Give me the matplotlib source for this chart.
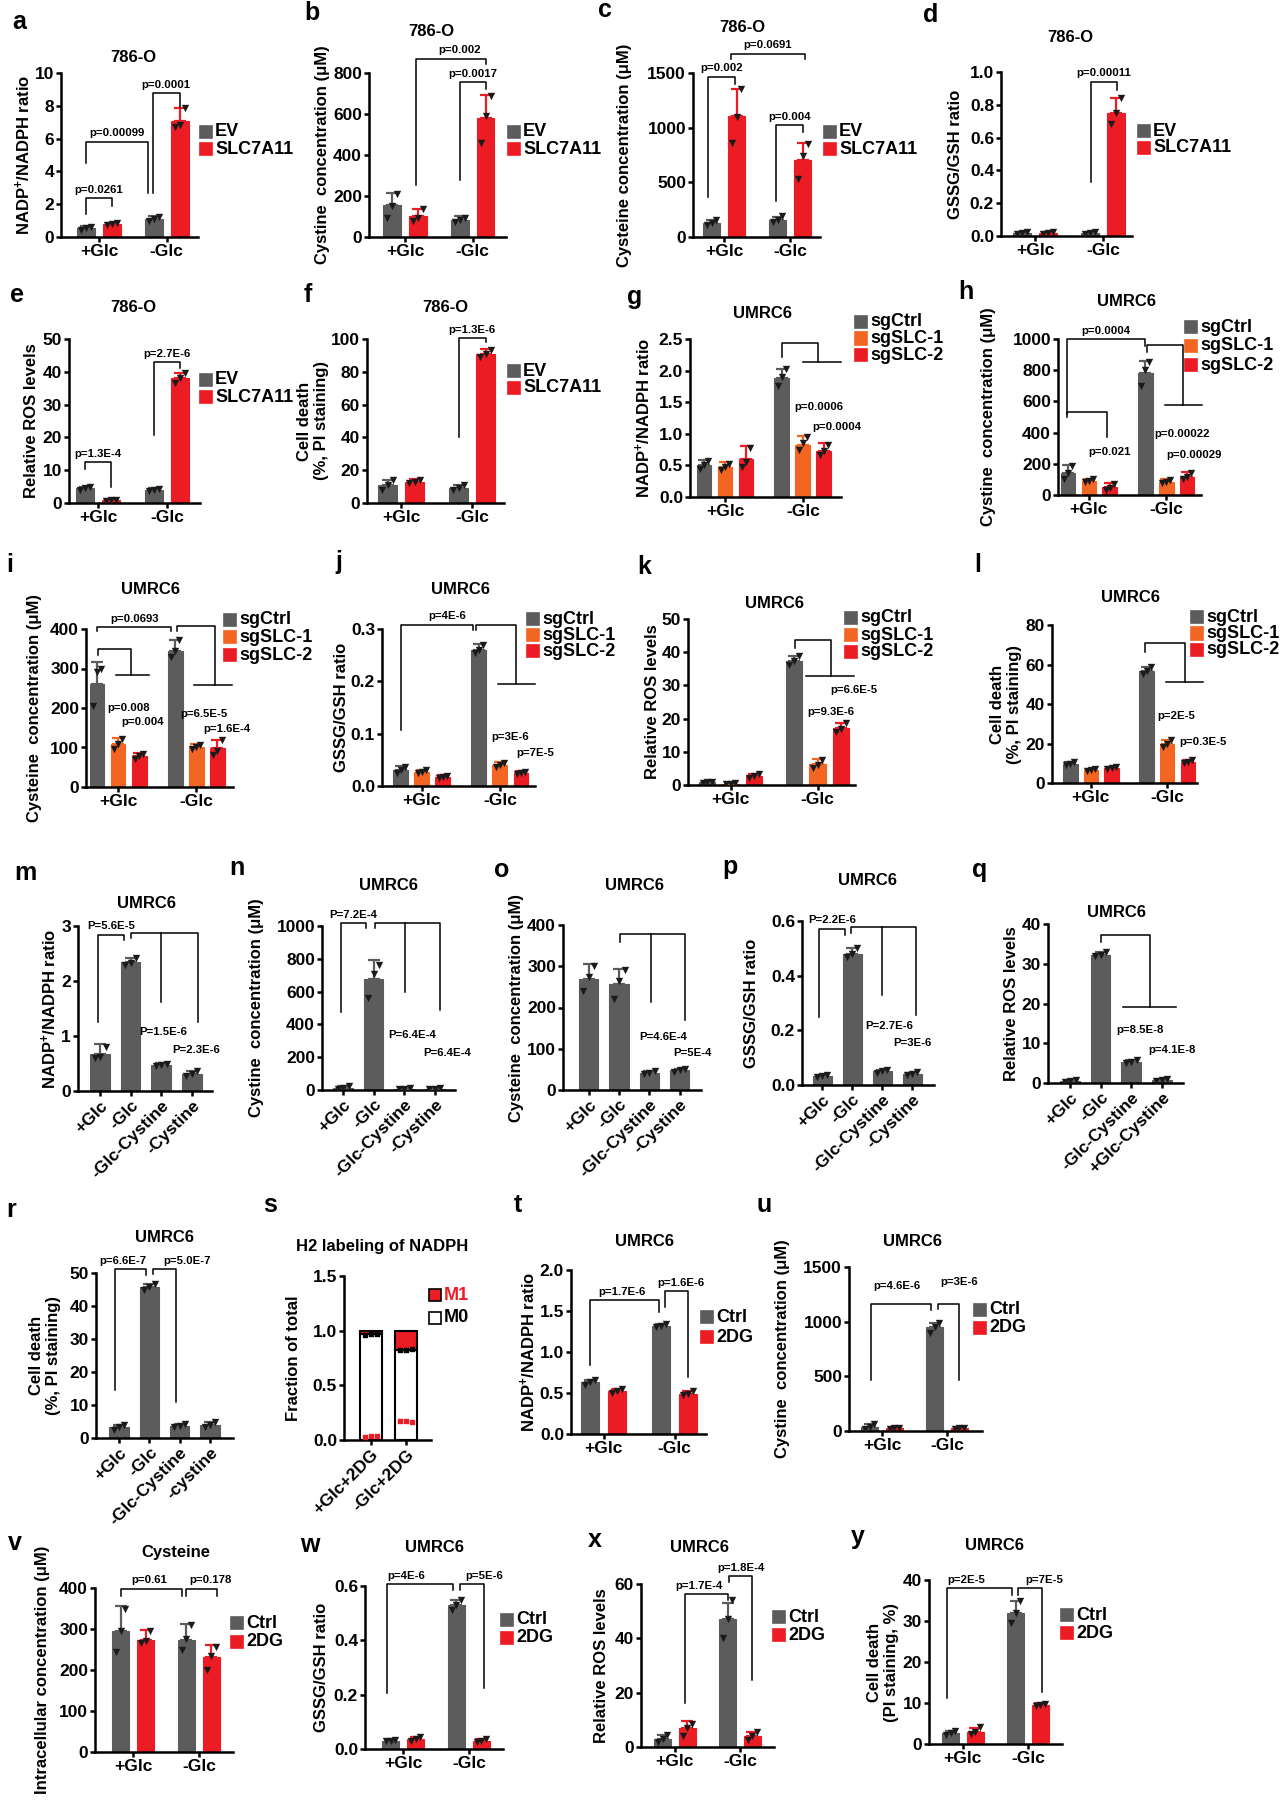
import numpy as np
import matplotlib
matplotlib.use('Agg')
import matplotlib.pyplot as plt
from matplotlib.patches import Rectangle
from matplotlib.ticker import FormatStrFormatter
from matplotlib import font_manager

plt.rcParams['font.family'] = ['Liberation Sans', 'DejaVu Sans']
plt.rcParams['font.weight'] = 'bold'
plt.rcParams['mathtext.fontset'] = 'custom'
plt.rcParams['mathtext.rm'] = 'Liberation Sans:bold'
plt.rcParams['mathtext.default'] = 'rm'
plt.rcParams['axes.linewidth'] = 1.8

installed = {f.name for f in font_manager.fontManager.ttflist}
PFONT = 'Liberation Sans Narrow' if 'Liberation Sans Narrow' in installed else 'Liberation Sans'
PFS = 9.5 if PFONT != 'Liberation Sans' else 8.2

GRAY, RED, ORANGE = '#5c5c5c', '#ec1c24', '#f26522'

# ---- data ----
GLC = ['+Glc', '-Glc']
CYS_M = ['+Glc', '-Glc', '-Glc-Cystine', '-Cystine']
CYS_Q = ['+Glc', '-Glc', '-Glc-Cystine', '+Glc-Cystine']
CYS_R = ['+Glc', '-Glc', '-Glc-Cystine', '-cystine']
DG_S = ['+Glc+2DG', '-Glc+2DG']

# 786-O, EV vs SLC7A11
a_ev, a_ev_sd, a_ev_pts = [0.55, 1.1], [0.12, 0.15], [[0.45, 0.55, 0.62], [1.0, 1.1, 1.22]]
a_slc, a_slc_sd, a_slc_pts = [0.8, 7.1], [0.08, 0.75], [[0.75, 0.8, 0.86], [6.7, 6.8, 7.85]]
b_ev, b_ev_sd, b_ev_pts = [155, 85], [60, 15], [[95, 150, 210], [75, 85, 95]]
b_slc, b_slc_sd, b_slc_pts = [100, 580], [35, 115], [[80, 95, 135], [460, 590, 690]]
c_ev, c_ev_sd, c_ev_pts = [130, 160], [30, 25], [[110, 130, 160], [140, 160, 190]]
c_slc, c_slc_sd, c_slc_pts = [1105, 700], [250, 160], [[860, 1100, 1350], [530, 740, 850]]
d_ev, d_ev_sd, d_ev_pts = [0.02, 0.02], [0.005, 0.005], [[0.015, 0.02, 0.025], [0.015, 0.02, 0.025]]
d_slc, d_slc_sd, d_slc_pts = [0.02, 0.75], [0.005, 0.09], [[0.015, 0.02, 0.025], [0.68, 0.75, 0.84]]
e_ev, e_ev_sd, e_ev_pts = [4.5, 4.0], [0.5, 0.5], [[4.1, 4.5, 5.0], [3.7, 4.0, 4.4]]
e_slc, e_slc_sd, e_slc_pts = [0.8, 38], [0.3, 1.5], [[0.5, 0.8, 1.0], [36.5, 38, 39.6]]
f_ev, f_ev_sd, f_ev_pts = [11, 9], [3, 2], [[8, 11, 14], [8, 9, 11]]
f_slc, f_slc_sd, f_slc_pts = [13, 91], [1.5, 3], [[12, 13, 14], [89, 91, 93.5]]

# UMRC6, sgCtrl / sgSLC-1 / sgSLC-2
g_c, g_c_sd, g_c_pts = [0.5, 1.88], [0.08, 0.15], [[0.45, 0.5, 0.57], [1.75, 1.9, 2.03]]
g_1, g_1_sd, g_1_pts = [0.47, 0.83], [0.08, 0.13], [[0.42, 0.47, 0.53], [0.75, 0.85, 0.95]]
g_2, g_2_sd, g_2_pts = [0.6, 0.73], [0.2, 0.12], [[0.48, 0.55, 0.78], [0.67, 0.73, 0.83]]
h_c, h_c_sd, h_c_pts = [140, 780], [50, 80], [[105, 140, 185], [700, 800, 850]]
h_1, h_1_sd, h_1_pts = [90, 85], [15, 15], [[85, 90, 100], [75, 85, 95]]
h_2, h_2_sd, h_2_pts = [50, 115], [25, 30], [[30, 45, 70], [100, 115, 140]]
i_c, i_c_sd, i_c_pts = [262, 345], [55, 28], [[205, 290, 300], [330, 345, 372]]
i_1, i_1_sd, i_1_pts = [108, 101], [15, 8], [[95, 110, 122], [95, 100, 106]]
i_2, i_2_sd, i_2_pts = [78, 98], [8, 22], [[72, 78, 84], [80, 90, 120]]
j_c, j_c_sd, j_c_pts = [0.03, 0.26], [0.008, 0.012], [[0.025, 0.03, 0.036], [0.255, 0.26, 0.27]]
j_1, j_1_sd, j_1_pts = [0.027, 0.04], [0.004, 0.005], [[0.024, 0.027, 0.03], [0.037, 0.04, 0.044]]
j_2, j_2_sd, j_2_pts = [0.018, 0.024], [0.003, 0.004], [[0.016, 0.018, 0.02], [0.022, 0.024, 0.027]]
k_c, k_c_sd, k_c_pts = [0.8, 37.5], [0.3, 1.5], [[0.5, 0.8, 1.0], [36, 37.5, 39]]
k_1, k_1_sd, k_1_pts = [0.4, 6.2], [0.2, 1.5], [[0.2, 0.4, 0.6], [5, 6, 7.6]]
k_2, k_2_sd, k_2_pts = [2.6, 17.2], [0.8, 1.5], [[2, 2.6, 3.4], [16, 17, 18.6]]
l_c, l_c_sd, l_c_pts = [9.5, 56.5], [1, 2], [[9, 9.5, 10.5], [55, 56.5, 58.5]]
l_1, l_1_sd, l_1_pts = [6.5, 19.5], [0.8, 2.5], [[6, 6.5, 7], [18, 19.5, 22]]
l_2, l_2_sd, l_2_pts = [7.5, 10.5], [0.8, 1], [[7, 7.5, 8.1], [10, 10.5, 11.5]]

# UMRC6, glucose / cystine conditions
m_val, m_sd = [0.68, 2.35, 0.48, 0.31], [0.17, 0.06, 0.03, 0.05]
m_pts = [[0.6, 0.62, 0.8], [2.3, 2.33, 2.42], [0.46, 0.48, 0.5], [0.28, 0.31, 0.36]]
n_val, n_sd = [15, 675, 8, 8], [10, 120, 3, 3]
n_pts = [[5, 15, 25], [560, 710, 760], [5, 8, 10], [5, 8, 10]]
o_val, o_sd = [270, 258, 42, 48], [35, 35, 3, 3]
o_pts = [[240, 275, 300], [220, 265, 290], [40, 42, 45], [44, 48, 52]]
p_val, p_sd = [0.032, 0.48, 0.05, 0.04], [0.005, 0.02, 0.005, 0.005]
p_pts = [[0.028, 0.032, 0.037], [0.47, 0.48, 0.5], [0.045, 0.05, 0.055], [0.035, 0.04, 0.046]]
q_val, q_sd = [0.5, 32.3, 5.2, 0.8], [0.2, 0.6, 0.5, 0.3]
q_pts = [[0.3, 0.5, 0.7], [32, 32.3, 32.9], [5, 5.2, 5.7], [0.5, 0.8, 1.0]]
r_val, r_sd = [3.2, 45.8, 3.7, 4.0], [0.8, 0.8, 0.5, 0.8]
r_pts = [[2.5, 3.2, 4.0], [45, 45.8, 46.6], [3.2, 3.7, 4.1], [3.3, 4.0, 5.0]]

# H2 labeling of NADPH
s_m0, s_m1 = [0.965, 0.825], [0.035, 0.175]
s_m0_pts = [[0.96, 0.965, 0.97], [0.82, 0.825, 0.83]]
s_m1_pts = [[0.03, 0.035, 0.035], [0.17, 0.175, 0.165]]

# UMRC6, Ctrl vs 2DG
t_c, t_c_sd, t_c_pts = [0.63, 1.32], [0.03, 0.02], [[0.6, 0.63, 0.66], [1.3, 1.32, 1.34]]
t_d, t_d_sd, t_d_pts = [0.53, 0.49], [0.02, 0.03], [[0.5, 0.53, 0.55], [0.47, 0.49, 0.52]]
u_c, u_c_sd, u_c_pts = [40, 950], [20, 40], [[20, 40, 60], [900, 950, 990]]
u_d, u_d_sd, u_d_pts = [25, 25], [8, 8], [[20, 25, 30], [20, 25, 30]]
v_c, v_c_sd, v_c_pts = [295, 273], [60, 40], [[245, 295, 350], [250, 275, 310]]
v_d, v_d_sd, v_d_pts = [272, 232], [25, 28], [[265, 270, 295], [200, 235, 255]]
w_c, w_c_sd, w_c_pts = [0.03, 0.53], [0.005, 0.02], [[0.028, 0.03, 0.033], [0.51, 0.53, 0.55]]
w_d, w_d_sd, w_d_pts = [0.035, 0.03], [0.01, 0.008], [[0.028, 0.035, 0.045], [0.025, 0.03, 0.037]]
x_c, x_c_sd, x_c_pts = [3, 47], [1.5, 6], [[2, 3, 4.5], [40, 47, 54]]
x_d, x_d_sd, x_d_pts = [7, 4], [2.5, 1.5], [[4, 7, 8.5], [2.5, 4, 5.5]]
y_c, y_c_sd, y_c_pts = [2.7, 32], [0.5, 3], [[2.3, 2.7, 3.1], [29.5, 32, 35]]
y_d, y_d_sd, y_d_pts = [3, 9.5], [1, 0.5], [[2.5, 3, 4.2], [9.2, 9.5, 9.8]]

NADP = r'NADP$^{+}$/NADPH ratio'
CYSTINE = 'Cystine  concentration (\u03bcM)'
CYSTEINE = 'Cysteine  concentration (\u03bcM)'
GSSG = 'GSSG/GSH ratio'
ROS = 'Relative ROS levels'
DEATH = 'Cell death\n(%, PI staining)'

# ---- drawing ----
FW, FH = 1285, 1800
fig = plt.figure(figsize=(FW / 100, FH / 100), dpi=100)
fig.patch.set_facecolor('white')
ylabels = []


def fx(x):
    return x / FW


def fy(y):
    return 1 - y / FH


def panel(letter, lpos, box, top, nt, xlim, title, tpos, ylabel, ylx, fmt=None):
    L, T, R, B = box
    ax = fig.add_axes([fx(L), fy(B), (R - L) / FW, (B - T) / FH])
    ax.set_ylim(0, top)
    ax.set_yticks(np.linspace(0, top, nt + 1))
    if fmt:
        ax.yaxis.set_major_formatter(FormatStrFormatter(fmt))
    ax.set_xlim(*xlim)
    ax.spines[['top', 'right']].set_visible(False)
    ax.tick_params(width=1.8, length=3.5, labelsize=12.5, pad=1.5)
    ax.patch.set_alpha(0)
    fig.text(fx(lpos[0]), fy(lpos[1]), letter, fontsize=18, va='center')
    fig.text(fx(tpos[0]), fy(tpos[1]), title, fontsize=12, ha='center', va='center')
    t = fig.text(fx(ylx), fy((T + B) / 2), ylabel, rotation=90, ha='center', va='center',
                 fontsize=12, multialignment='center')
    ylabels.append((ax, t))
    return ax


def bars(ax, xs, vals, sd, pts, color, w):
    ax.bar(xs, vals, w, color=color, edgecolor=color, lw=0.8, zorder=2)
    ax.errorbar(xs, vals, yerr=[np.zeros(len(vals)), sd], fmt='none', ecolor=color,
                elinewidth=1.6, capsize=4, capthick=1.6, zorder=3)
    for x, p in zip(xs, pts):
        ax.scatter(x + np.array([-0.28, 0.0, 0.28]) * w, p, marker='v', s=28,
                   color='#1a1a1a', lw=0, zorder=4)


def two(ax, c, d, ccol, dcol, labels=GLC):
    bars(ax, np.arange(2) - 0.19, *c, ccol, 0.26)
    bars(ax, np.arange(2) + 0.19, *d, dcol, 0.26)
    ax.set_xticks(range(2))
    ax.set_xticklabels(labels)


def three(ax, c, s1, s2):
    for ser, off, col in zip([c, s1, s2], [-0.27, 0, 0.27], [GRAY, ORANGE, RED]):
        bars(ax, np.arange(2) + off, *ser, col, 0.19)
    ax.set_xticks(range(2))
    ax.set_xticklabels(GLC)


def four(ax, vals, sd, pts, labels):
    bars(ax, np.arange(4), vals, sd, pts, GRAY, 0.64)
    ax.set_xticks(range(4))
    ax.set_xticklabels(labels, rotation=45, ha='right', rotation_mode='anchor')


def legend(x, y, labels, colors, step, edge=None, tcol=None, fs=13):
    for k, lab in enumerate(labels):
        yc = y + k * step
        fig.add_artist(Rectangle((fx(x), fy(yc + 6)), 12 / FW, 12 / FH, transform=fig.transFigure,
                                 facecolor=colors[k], edgecolor=edge or colors[k], lw=1.2))
        fig.text(fx(x + 15), fy(yc), lab, ha='left', va='center', fontsize=fs,
                 color=tcol[k] if tcol else 'k')


def br(ax, x1, x2, ytop, y1, y2, txt=None, tx=None):
    ax.plot([x1, x1, x2, x2], [y1, ytop, ytop, y2], color='k', lw=1.1, clip_on=False, zorder=5)
    if txt:
        ax.annotate(txt, ((x1 + x2) / 2 if tx is None else tx, ytop), xytext=(0, 2.5),
                    textcoords='offset points', ha='center', va='bottom', fontsize=PFS,
                    family=PFONT, annotation_clip=False)


def comb(ax, x0, y0, ytop, xr, yr, cross=None, teeth=()):
    ax.plot([x0, x0, xr, xr], [y0, ytop, ytop, yr], color='k', lw=1.1, clip_on=False, zorder=5)
    for tx, ty in teeth:
        ax.plot([tx, tx], [ytop, ty], color='k', lw=1.1, clip_on=False, zorder=5)
    if cross:
        ax.plot(cross, [yr, yr], color='k', lw=1.1, clip_on=False, zorder=5)


def ptxt(ax, x, y, s):
    ax.text(x, y, s, ha='center', va='center', fontsize=PFS, family=PFONT, clip_on=False)


EVL = ['EV', 'SLC7A11']
SGL = ['sgCtrl', 'sgSLC-1', 'sgSLC-2']
DGL = ['Ctrl', '2DG']

# row 1
ax = panel('a', (12, 22), (61, 73, 198, 237), 10, 5, (-0.56, 1.46), '786-O', (133, 58), NADP, 30)
two(ax, (a_ev, a_ev_sd, a_ev_pts), (a_slc, a_slc_sd, a_slc_pts), GRAY, RED)
br(ax, -0.19, 0.19, 2.37, 1.4, 1.86, 'p=0.0261')
br(ax, -0.19, 0.73, 5.8, 4.5, 2.67, 'p=0.00099')
br(ax, 0.79, 1.19, 8.75, 2.67, 7.95, 'p=0.0001')
legend(200, 132, EVL, [GRAY, RED], 17)

ax = panel('b', (304, 13), (369, 73, 506, 237), 800, 4, (-0.53, 1.49), '786-O', (431, 32), CYSTINE, 322)
two(ax, (b_ev, b_ev_sd, b_ev_pts), (b_slc, b_slc_sd, b_slc_pts), GRAY, RED)
br(ax, 0.81, 1.19, 756, 276, 724, 'p=0.0017')
br(ax, 0.17, 1.19, 870, 252, 845, 'p=0.002', tx=0.8)
legend(508, 132, EVL, [GRAY, RED], 17)

ax = panel('c', (598, 10), (693, 73, 820, 237), 1500, 3, (-0.47, 1.45), '786-O', (742, 28),
           'Cysteine concentration (\u03bcM)', 624)
two(ax, (c_ev, c_ev_sd, c_ev_pts), (c_slc, c_slc_sd, c_slc_pts), GRAY, RED)
br(ax, -0.25, 0.17, 1464, 370, 1403, 'p=0.002')
br(ax, 0.11, 1.22, 1676, 1630, 1630, 'p=0.0691')
br(ax, 0.78, 1.2, 1023, 325, 962, 'p=0.004')
legend(824, 132, EVL, [GRAY, RED], 17)

ax = panel('d', (923, 15), (1001, 72, 1132, 236), 1.0, 5, (-0.5, 1.43), '786-O', (1070, 38), GSSG, 956, '%.1f')
two(ax, (d_ev, d_ev_sd, d_ev_pts), (d_slc, d_slc_sd, d_slc_pts), GRAY, RED)
br(ax, 0.82, 1.21, 0.94, 0.33, 0.89, 'p=0.00011')
legend(1138, 131, EVL, [GRAY, RED], 17)

# row 2
ax = panel('e', (10, 295), (69, 339, 200, 503), 50, 5, (-0.42, 1.48), '786-O', (133, 307), ROS, 32)
two(ax, (e_ev, e_ev_sd, e_ev_pts), (e_slc, e_slc_sd, e_slc_pts), GRAY, RED)
br(ax, -0.19, 0.19, 12.5, 10.5, 4.9, 'p=1.3E-4')
br(ax, 0.81, 1.19, 42.9, 20.7, 41.1, 'p=2.7E-6')
legend(200, 380, EVL, [GRAY, RED], 17)

ax = panel('f', (304, 295), (367, 339, 504, 503), 100, 5, (-0.48, 1.45), '786-O', (445, 307), DEATH, 322)
two(ax, (f_ev, f_ev_sd, f_ev_pts), (f_slc, f_slc_sd, f_slc_pts), GRAY, RED)
br(ax, 0.81, 1.19, 100.6, 40.4, 98, 'p=1.3E-6')
legend(508, 371, EVL, [GRAY, RED], 17)

ax = panel('g', (627, 297), (690, 339, 841, 497), 2.5, 5, (-0.45, 1.49), 'UMRC6', (763, 313), NADP, 643, '%.1f')
three(ax, (g_c, g_c_sd, g_c_pts), (g_1, g_1_sd, g_1_pts), (g_2, g_2_sd, g_2_pts))
comb(ax, 0.73, 2.22, 2.43, 1.2, 2.14, cross=(1.0, 1.49))
ptxt(ax, 1.2, 1.43, 'p=0.0006')
ptxt(ax, 1.44, 1.1, 'p=0.0004')
legend(855, 322, SGL, [GRAY, ORANGE, RED], 16.5)

ax = panel('h', (958, 292), (1058, 339, 1201, 495), 1000, 5, (-0.4, 1.45), 'UMRC6', (1126, 302), CYSTINE, 988)
three(ax, (h_c, h_c_sd, h_c_pts), (h_1, h_1_sd, h_1_pts), (h_2, h_2_sd, h_2_pts))
br(ax, -0.28, 0.72, 1000, 521, 957, 'p=0.0004')
comb(ax, -0.28, 500, 532, 0.24, 372)
comb(ax, 0.75, 915, 960, 1.22, 574, cross=(0.98, 1.46))
ptxt(ax, 0.27, 277, 'p=0.021')
ptxt(ax, 1.2, 393, 'p=0.00022')
ptxt(ax, 1.36, 255, 'p=0.00029')
legend(1185, 327, SGL, [GRAY, ORANGE, RED], 19)

# row 3
ax = panel('i', (6, 565), (86, 629, 233, 787), 400, 4, (-0.41, 1.47), 'UMRC6', (151, 590), CYSTEINE, 35)
three(ax, (i_c, i_c_sd, i_c_pts), (i_1, i_1_sd, i_1_pts), (i_2, i_2_sd, i_2_pts))
br(ax, -0.27, 0.68, 405, 394, 394, 'p=0.0693')
comb(ax, -0.26, 335, 349, 0.16, 284, cross=(-0.03, 0.39))
comb(ax, 0.75, 394, 408, 1.24, 258, cross=(0.97, 1.46))
ptxt(ax, 0.13, 199, 'p=0.008')
ptxt(ax, 0.32, 165, 'p=0.004')
ptxt(ax, 1.1, 186, 'p=6.5E-5')
ptxt(ax, 1.39, 148, 'p=1.6E-4')
legend(224, 620, SGL, [GRAY, ORANGE, RED], 17.5)

ax = panel('j', (335, 562), (382, 629, 535, 786), 0.3, 3, (-0.51, 1.45), 'UMRC6', (461, 590), GSSG, 343, '%.1f')
three(ax, (j_c, j_c_sd, j_c_pts), (j_1, j_1_sd, j_1_pts), (j_2, j_2_sd, j_2_pts))
br(ax, -0.27, 0.66, 0.308, 0.107, 0.299, 'p=4E-6', tx=0.32)
comb(ax, 0.7, 0.299, 0.308, 1.21, 0.195, cross=(0.97, 1.45))
ptxt(ax, 1.13, 0.094, 'p=3E-6')
ptxt(ax, 1.45, 0.063, 'p=7E-5')
legend(527, 619, SGL, [GRAY, ORANGE, RED], 16)

ax = panel('k', (637, 567), (688, 619, 855, 785), 50, 5, (-0.49, 1.43), 'UMRC6', (775, 603), ROS, 654)
three(ax, (k_c, k_c_sd, k_c_pts), (k_1, k_1_sd, k_1_pts), (k_2, k_2_sd, k_2_pts))
comb(ax, 0.74, 41.2, 43.8, 1.15, 32.9, cross=(0.87, 1.42))
ptxt(ax, 1.42, 28.7, 'p=6.6E-5')
ptxt(ax, 1.15, 22.1, 'p=9.3E-6')
legend(845, 618, SGL, [GRAY, ORANGE, RED], 17)

ax = panel('l', (974, 565), (1052, 625, 1197, 783), 80, 4, (-0.51, 1.39), 'UMRC6', (1130, 597), DEATH, 1006)
three(ax, (l_c, l_c_sd, l_c_pts), (l_1, l_1_sd, l_1_pts), (l_2, l_2_sd, l_2_pts))
comb(ax, 0.71, 66.5, 70.7, 1.23, 51.3, cross=(0.99, 1.47))
ptxt(ax, 1.12, 33.7, 'p=2E-5')
ptxt(ax, 1.47, 21, 'p=0.3E-5')
legend(1191, 617, SGL, [GRAY, ORANGE, RED], 16.5)

# row 4
ax = panel('m', (14, 873), (78, 926, 212, 1091), 3, 3, (-0.72, 3.66), 'UMRC6', (147, 903), NADP, 51)
four(ax, m_val, m_sd, m_pts, CYS_M)
br(ax, -0.07, 0.77, 2.84, 1.26, 2.75, 'P=5.6E-5')
comb(ax, 1.0, 2.78, 2.87, 3.2, 1.26, teeth=[(2.0, 1.62)])
ptxt(ax, 2.07, 1.08, 'P=1.5E-6')
ptxt(ax, 3.13, 0.75, 'P=2.3E-6')

ax = panel('n', (229, 868), (322, 926, 455, 1090), 1000, 5, (-0.69, 3.66), 'UMRC6', (388, 885), CYSTINE, 257)
four(ax, n_val, n_sd, n_pts, CYS_M)
br(ax, -0.07, 0.76, 1016, 478, 986, 'P=7.2E-4')
comb(ax, 1.03, 986, 1020, 3.17, 488, teeth=[(2.04, 600)])
ptxt(ax, 2.27, 335, 'P=6.4E-4')
ptxt(ax, 3.4, 224, 'P=6.4E-4')

ax = panel('o', (494, 870), (563, 925, 701, 1090), 400, 4, (-0.85, 3.7), 'UMRC6', (635, 885), CYSTEINE, 516)
four(ax, o_val, o_sd, o_pts, CYS_M)
comb(ax, 1.03, 360, 377, 3.17, 170, teeth=[(2.04, 214)])
ptxt(ax, 2.45, 128, 'P=4.6E-4')
ptxt(ax, 3.43, 90, 'P=5E-4')

ax = panel('p', (722, 867), (802, 921, 934, 1085), 0.6, 3, (-0.67, 3.73), 'UMRC6', (867, 880), GSSG, 751, '%.1f')
four(ax, p_val, p_sd, p_pts, CYS_M)
br(ax, -0.11, 0.75, 0.572, 0.249, 0.547, 'P=2.2E-6')
comb(ax, 0.96, 0.555, 0.578, 3.14, 0.255, teeth=[(2.0, 0.328)])
ptxt(ax, 2.24, 0.215, 'P=2.7E-6')
ptxt(ax, 3.0, 0.152, 'P=3E-6')

ax = panel('q', (972, 870), (1048, 924, 1183, 1083), 40, 4, (-0.72, 3.69), 'UMRC6', (1117, 912), ROS, 1011)
four(ax, q_val, q_sd, q_pts, CYS_Q)
comb(ax, 1.0, 35.5, 37.2, 2.6, 19.2, cross=(1.73, 3.47))
ptxt(ax, 2.27, 13.4, 'p=8.5E-8')
ptxt(ax, 3.33, 8.4, 'p=4.1E-8')

# row 5
ax = panel('r', (6, 1210), (96, 1273, 233, 1438), 50, 5, (-0.76, 3.76), 'UMRC6', (165, 1238), DEATH, 45)
four(ax, r_val, r_sd, r_pts, CYS_R)
br(ax, -0.12, 0.88, 51.1, 14.6, 49.3, 'p=6.6E-7', tx=0.11)
br(ax, 1.11, 1.88, 51.1, 49.8, 11, 'p=5.0E-7', tx=2.24)

ax = panel('s', (263, 1205), (344, 1276, 431, 1440), 1.5, 3, (-0.77, 1.71), 'H2 labeling of NADPH', (382, 1247),
           'Fraction of total', 294, '%.1f')
xs = np.arange(2)
ax.bar(xs, s_m0, 0.62, color='white', edgecolor='k', lw=1.5, zorder=2)
ax.bar(xs, s_m1, 0.62, bottom=s_m0, color=RED, edgecolor='k', lw=1.5, zorder=2)
for x, p0, p1 in zip(xs, s_m0_pts, s_m1_pts):
    ax.scatter(x + np.array([-0.18, 0, 0.18]), p0, marker='s', s=5, color='k', zorder=4)
    ax.scatter(x + np.array([-0.18, 0, 0.18]), p1, marker='s', s=9, color=RED, zorder=4)
ax.set_xticks(range(2))
ax.set_xticklabels(DG_S, rotation=45, ha='right', rotation_mode='anchor')
legend(429, 1295, ['M1', 'M0'], [RED, 'white'], 23, edge='k', tcol=[RED, 'k'])

ax = panel('t', (514, 1205), (571, 1270, 706, 1434), 2.0, 4, (-0.46, 1.44), 'UMRC6', (644, 1242), NADP, 529, '%.1f')
two(ax, (t_c, t_c_sd, t_c_pts), (t_d, t_d_sd, t_d_pts), GRAY, RED)
br(ax, -0.19, 0.78, 1.63, 0.84, 1.49, 'p=1.7E-6', tx=0.25)
br(ax, 0.86, 1.19, 1.74, 1.55, 0.7, 'p=1.6E-6', tx=1.08)
legend(701, 1317, DGL, [GRAY, RED], 20)

ax = panel('u', (757, 1205), (849, 1267, 982, 1431), 1500, 3, (-0.51, 1.54), 'UMRC6', (913, 1242), CYSTINE, 783)
two(ax, (u_c, u_c_sd, u_c_pts), (u_d, u_d_sd, u_d_pts), GRAY, RED)
br(ax, -0.17, 0.76, 1165, 463, 1104)
br(ax, 0.86, 1.19, 1160, 1120, 463)
ptxt(ax, 0.22, 1326, 'p=4.6E-6')
ptxt(ax, 1.18, 1363, 'p=3E-6')
legend(974, 1310, DGL, [GRAY, RED], 18)

# row 6
ax = panel('v', (8, 1543), (95, 1588, 233, 1752), 400, 4, (-0.58, 1.52), 'Cysteine', (176, 1552),
           'Intracellular concentration (\u03bcM)', 43)
two(ax, (v_c, v_c_sd, v_c_pts), (v_d, v_d_sd, v_d_pts), GRAY, RED)
br(ax, -0.19, 0.74, 398, 381, 381, 'p=0.61', tx=0.24)
br(ax, 0.81, 1.27, 398, 381, 380, 'p=0.178', tx=1.17)
legend(231, 1623, DGL, [GRAY, RED], 19)

ax = panel('w', (300, 1545), (365, 1586, 503, 1749), 0.6, 3, (-0.58, 1.52), 'UMRC6', (435, 1548), GSSG, 322, '%.1f')
two(ax, (w_c, w_c_sd, w_c_pts), (w_d, w_d_sd, w_d_pts), GRAY, RED)
br(ax, -0.24, 0.76, 0.606, 0.206, 0.585, 'p=4E-6', tx=0.05)
br(ax, 0.86, 1.23, 0.606, 0.585, 0.224, 'p=5E-6', tx=1.23)
legend(501, 1620, DGL, [GRAY, RED], 18)

ax = panel('x', (588, 1540), (641, 1584, 774, 1747), 60, 3, (-0.52, 1.52), 'UMRC6', (700, 1548), ROS, 602)
two(ax, (x_c, x_c_sd, x_c_pts), (x_d, x_d_sd, x_d_pts), GRAY, RED)
br(ax, 0.16, 0.81, 56.2, 16.2, 54.1, 'p=1.7E-4', tx=0.37)
br(ax, 0.83, 1.19, 62.9, 60.8, 24.7, 'p=1.8E-4')
legend(773, 1617, DGL, [GRAY, RED], 18)

ax = panel('y', (851, 1537), (929, 1580, 1062, 1744), 40, 4, (-0.52, 1.52), 'UMRC6', (995, 1545),
           'Cell death\n(PI staining, %)', 883)
two(ax, (y_c, y_c_sd, y_c_pts), (y_d, y_d_sd, y_d_pts), GRAY, RED)
br(ax, -0.25, 0.75, 38, 11.1, 36.3, 'p=2E-5', tx=0.05)
br(ax, 0.84, 1.21, 38, 36.3, 12.8, 'p=7E-5', tx=1.25)
legend(1061, 1615, DGL, [GRAY, RED], 18)

# keep the y labels clear of the tick labels
fig.canvas.draw()
rend = fig.canvas.get_renderer()
for ax, t in ylabels:
    left = min(lab.get_window_extent(rend).x0 for lab in ax.get_yticklabels() if lab.get_text())
    bb = t.get_window_extent(rend)
    if bb.x1 > left - 2:
        x, y = t.get_position()
        t.set_position((x - (bb.x1 - left + 2) / FW, y))

fig.savefig('out.png', dpi=100, facecolor='white')
